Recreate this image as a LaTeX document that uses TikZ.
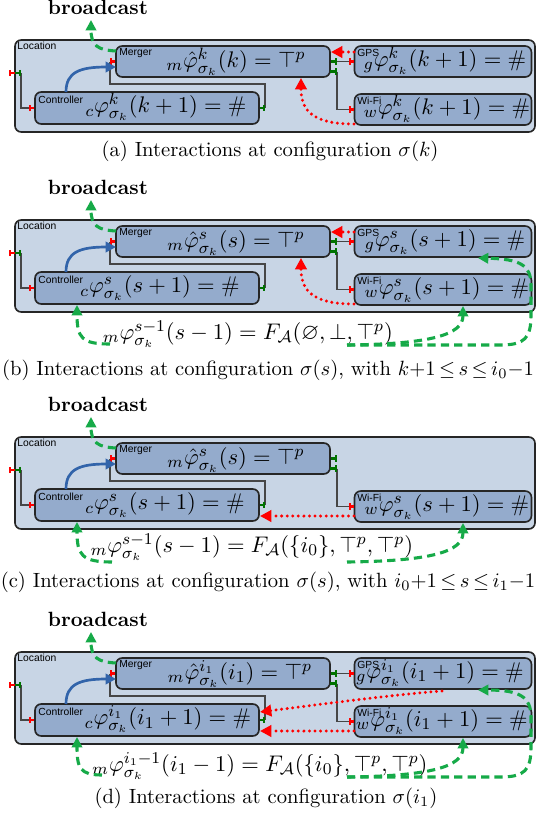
\documentclass[tikz,border=0pt]{standalone}
\usepackage{amsmath,amssymb}
\usepackage{fontspec}
\newfontfamily\lblfont{Liberation Sans}
\usetikzlibrary{arrows.meta}
\definecolor{outerfill}{RGB}{200,213,229}
\definecolor{innerfill}{RGB}{148,171,204}
\definecolor{portgreen}{RGB}{0,115,0}
\definecolor{dgreen}{RGB}{22,170,72}
\definecolor{bluearr}{RGB}{50,100,170}
\definecolor{wiregray}{RGB}{70,70,70}
\tikzset{
  outerbox/.style={draw=black!85, line width=0.8pt, fill=outerfill, rounded corners=3pt, inner sep=0pt, minimum width=252.2pt, minimum height=44.6pt},
  innerbox/.style={draw=black!85, line width=0.8pt, fill=innerfill, rounded corners=3pt, inner sep=0pt, minimum height=15pt},
  lbl/.style={font=\lblfont\fontsize{5}{5.5}\selectfont, inner sep=0pt, anchor=west},
  boxmath/.style={font=\fontsize{11}{13}\selectfont, inner sep=0pt, anchor=mid},
  wire/.style={draw=wiregray, line width=0.5pt},
  inport/.style={draw=red, line width=1pt, {Bar[width=3pt]}-},
  outport/.style={draw=portgreen, line width=1pt, -{Bar[width=3pt]}},
  reddot/.style={draw=red, line width=1.6pt, line cap=round, dash pattern=on 0pt off 2.7pt, -{Triangle[length=5.5pt,width=5.5pt]}},
  greendash/.style={draw=dgreen, line width=1.5pt, dash pattern=on 4pt off 2.5pt, -{Triangle[length=5pt,width=5pt]}},
  bluearrow/.style={draw=bluearr, line width=1.3pt, -{Triangle[length=5pt,width=5pt]}},
  captxt/.style={font=\fontsize{10}{12}\selectfont, inner sep=0pt, anchor=base},
  bcast/.style={font=\bfseries\fontsize{10}{12}\selectfont, inner sep=0pt, anchor=base},
}
% #1 Y0, #2 suffix, #3 merger text, #4 controller text, #5 wifi text, #6 merger x, #7 controller x, #8 wifi x
\newcommand\basepanel[8]{%
  \node[outerbox] (loc#2) at (275,#1+46) {};
  \node[lbl] (locl#2) at (17,#1+5.5) {Location};
  \node[innerbox, minimum width=103.8pt] (mer#2) at (223,#1+21.5) {};
  \node[lbl] (merl#2) at (119,#1+13.5) {Merger};
  \node[innerbox, minimum width=108.6pt, minimum height=15.5pt] (con#2) at (147,#1+68) {};
  \node[lbl] (conl#2) at (38,#1+60) {Controller};
  \node[innerbox, minimum width=85.8pt] (wif#2) at (443,#1+69.5) {};
  \node[lbl] (wifl#2) at (357,#1+60.5) {Wi-Fi};
  \node[boxmath] (mert#2) at (#6,#1+23) {#3};
  \node[boxmath] (cont#2) at (#7,#1+68.5) {#4};
  \node[boxmath] (wift#2) at (#8,#1+70) {#5};
  % ports and wires
  \coordinate (lin#2) at (9,#1+33);
  \coordinate (lmid#2) at (15,#1+33);
  \coordinate (lout#2) at (21,#1+33);
  \coordinate (cin#2) at (29,#1+68);
  \coordinate (cout#2) at (265,#1+68);
  \coordinate (wb#2) at (265,#1+44);
  \coordinate (min#2) at (110,#1+21.5);
  \coordinate (mo1#2) at (337,#1+21.5);
  \coordinate (mo2s#2) at (330,#1+31.5);
  \coordinate (mo2#2) at (337,#1+31.5);
  \coordinate (win#2) at (349,#1+69.5);
  \draw[wire] (lout#2) |- (cin#2);
  \draw[wire] (cout#2) -- (wb#2) -| (min#2);
  \draw[wire] (mo2#2) |- (win#2);
  \draw[inport] (lin#2) -- (lmid#2);
  \draw[outport] (lmid#2) -- (lout#2);
  \draw[inport] (cin#2) -- (con#2.west);
  \draw[outport] (con#2.east) -- (cout#2);
  \draw[inport] (min#2) -- (mer#2.west);
  \draw[outport] (mer#2.east) -- (mo1#2);
  \draw[outport] (mo2s#2) -- (mo2#2);
  \draw[inport] (win#2) -- (wif#2.west);
  % blue arrow
  \coordinate (bs#2) at (66,#1+52);
  \coordinate (be#2) at (116,#1+27);
  \draw[bluearrow] (bs#2) .. controls (66,#1+32) and (80,#1+27) .. (be#2);
  % broadcast
  \node[bcast] (bc#2) at (98,#1-26) {broadcast};
  \coordinate (gs#2) at (116,#1+11);
  \coordinate (ge#2) at (91,#1-20);
  \draw[greendash] (gs#2) .. controls (98,#1+10) and (91,#1+6) .. (ge#2);
}
% #1 Y0, #2 suffix, #3 text, #4 x
\newcommand\gpsbox[4]{%
  \node[innerbox, minimum width=85.8pt] (gps#2) at (443,#1+21.5) {};
  \node[lbl] (gpsl#2) at (357,#1+12.5) {GPS};
  \node[boxmath] (gpst#2) at (#4,#1+22) {#3};
  \coordinate (gin#2) at (349,#1+21.5);
  \draw[wire] (mo1#2) -- (gin#2);
  \draw[inport] (gin#2) -- (gps#2.west);
}
\begin{document}
\begin{tikzpicture}[x=0.485pt,y=-0.485pt]
\useasboundingbox (0,0) rectangle (536,814);
% ---------- (a)
\basepanel{40}{a}{${}_m\hat\varphi^k_{\sigma_k}(k)=\top^p$}{${}_c\varphi^k_{\sigma_k}(k+1)=\#$}{${}_w\varphi^k_{\sigma_k}(k+1)=\#$}{236}{166}{447}
\gpsbox{40}{a}{${}_g\varphi^k_{\sigma_k}(k+1)=\#$}{445}
\coordinate (ra1s) at (354,52); \coordinate (ra1e) at (331,52);
\draw[reddot] (ra1s) -- (ra1e);
\coordinate (ra2s) at (354,124); \coordinate (ra2e) at (301,78);
\draw[reddot] (ra2s) .. controls (312,124) and (301,110) .. (ra2e);
\node[captxt] (capa) at (270,156) {(a) Interactions at configuration $\sigma(k)$};
% ---------- (b)
\basepanel{220}{b}{${}_m\hat\varphi^s_{\sigma_k}(s)=\top^p$}{${}_c\varphi^s_{\sigma_k}(s+1)=\#$}{${}_w\varphi^s_{\sigma_k}(s+1)=\#$}{236}{160}{447}
\gpsbox{220}{b}{${}_g\varphi^s_{\sigma_k}(s+1)=\#$}{445}
\coordinate (rb1s) at (354,232); \coordinate (rb1e) at (331,232);
\draw[reddot] (rb1s) -- (rb1e);
\coordinate (rb2s) at (354,304); \coordinate (rb2e) at (301,258);
\draw[reddot] (rb2s) .. controls (312,304) and (301,290) .. (rb2e);
\node[boxmath] (fb) at (248,335) {${}_m\varphi^{s-1}_{\sigma_k}(s-1)=F_{\mathcal A}(\varnothing,\bot,\top^p)$};
\coordinate (gb1) at (110,344); \coordinate (gb2) at (347,345);
\coordinate (gbt1) at (77,305); \coordinate (gbt2) at (463,306); \coordinate (gbt3) at (478,258);
\draw[greendash] (gb1) .. controls (82,344) and (77,338) .. (gbt1);
\draw[greendash] (gb2) .. controls (430,344) and (463,335) .. (gbt2);
\draw[greendash] (gb2) -- (500,345) .. controls (525,345) and (531,338) .. (531,315) -- (531,285) .. controls (531,265) and (520,259) .. (gbt3);
\node[captxt] (capb) at (268,375) {(b) Interactions at configuration $\sigma(s)$, with $k{+}1\,{\leq}\,s\,{\leq}\,i_0{-}1$};
% ---------- (c)
\basepanel{437}{c}{${}_m\hat\varphi^s_{\sigma_k}(s)=\top^p$}{${}_c\varphi^s_{\sigma_k}(s+1)=\#$}{${}_w\varphi^s_{\sigma_k}(s+1)=\#$}{236}{165}{447}
\coordinate (rc1s) at (354,516); \coordinate (rc1e) at (260,516);
\draw[reddot] (rc1s) -- (rc1e);
\node[boxmath] (fc) at (252,548) {${}_m\varphi^{s-1}_{\sigma_k}(s-1)=F_{\mathcal A}(\{i_0\},\top^p,\top^p)$};
\coordinate (gc1) at (112,562); \coordinate (gc2) at (347,562);
\coordinate (gct1) at (77,522); \coordinate (gct2) at (463,523);
\draw[greendash] (gc1) .. controls (82,562) and (77,555) .. (gct1);
\draw[greendash] (gc2) .. controls (430,561) and (463,552) .. (gct2);
\node[captxt] (capc) at (268,587) {(c) Interactions at configuration $\sigma(s)$, with $i_0{+}1\,{\leq}\,s\,{\leq}\,i_1{-}1$};
% ---------- (d)
\basepanel{652}{d}{${}_m\hat\varphi^{i_1}_{\sigma_k}(i_1)=\top^p$}{${}_c\varphi^{i_1}_{\sigma_k}(i_1+1)=\#$}{${}_w\varphi^{i_1}_{\sigma_k}(i_1+1)=\#$}{240}{168}{442}
\gpsbox{652}{d}{${}_g\varphi^{i_1}_{\sigma_k}(i_1+1)=\#$}{440}
\coordinate (rd1s) at (442,691); \coordinate (rd1e) at (260,712);
\draw[reddot] (rd1s) .. controls (400,694) and (330,703) .. (rd1e);
\coordinate (rd2s) at (354,731); \coordinate (rd2e) at (260,731);
\draw[reddot] (rd2s) -- (rd2e);
\node[boxmath] (fd) at (260,767) {${}_m\varphi^{i_1-1}_{\sigma_k}(i_1-1)=F_{\mathcal A}(\{i_0\},\top^p,\top^p)$};
\coordinate (gd1) at (102,775); \coordinate (gd2) at (347,777);
\coordinate (gdt1) at (77,737); \coordinate (gdt2) at (463,738); \coordinate (gdt3) at (478,690);
\draw[greendash] (gd1) .. controls (80,775) and (77,768) .. (gdt1);
\draw[greendash] (gd2) .. controls (430,776) and (463,767) .. (gdt2);
\draw[greendash] (gd2) -- (500,777) .. controls (525,777) and (531,770) .. (531,747) -- (531,717) .. controls (531,697) and (520,690) .. (gdt3);
\node[captxt] (capd) at (266,803) {(d) Interactions at configuration $\sigma(i_1)$};
\end{tikzpicture}
\end{document}
